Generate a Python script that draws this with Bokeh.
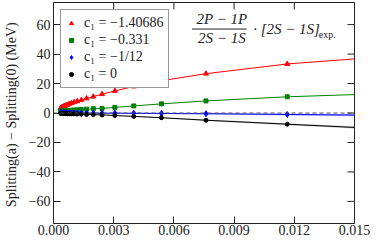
import math
from bokeh.plotting import figure
from bokeh.models import (Range1d, FixedTicker, Span, Legend, LegendItem,
                          PrintfTickFormatter)
from bokeh.core.properties import value
from bokeh.embed import file_html
from bokeh.resources import INLINE

# ---------------- data ----------------
x_vals = [0.000353, 0.000384, 0.000419, 0.00046, 0.000506, 0.00056, 0.000623, 0.000698,
          0.000787, 0.000894, 0.001024, 0.001185, 0.001387, 0.001646, 0.001984, 0.00242,
          0.00306, 0.0040, 0.00538, 0.0076, 0.01165]
red_pts = [3.3, 3.6, 3.8, 4.1, 4.5, 4.8, 5.2, 5.6, 6.2, 6.7, 7.3, 8.0, 8.8, 9.9, 11.1,
           12.8, 15.0, 18.0, 21.9, 26.7, 33.3]
green_pts = [1.2, 1.25, 1.3, 1.35, 1.4, 1.5, 1.55, 1.65, 1.75, 1.85, 2.0, 2.15, 2.35, 2.6,
             2.9, 3.1, 3.8, 4.8, 6.2, 8.2, 11.0]
blue_pts = [0.1, 0.1, 0.1, 0.1, 0.1, 0.05, 0.05, 0.05, 0.0, 0.0, 0.0, 0.0, -0.05, -0.05,
            -0.1, -0.1, -0.15, -0.2, -0.3, -0.5, -1.0]
black_pts = [-0.2, -0.25, -0.3, -0.3, -0.35, -0.4, -0.4, -0.45, -0.5, -0.55, -0.6, -0.7,
             -0.8, -0.95, -1.1, -1.3, -1.7, -2.3, -3.2, -4.9, -7.6]

# fit curves: same x plus extrapolation to the right edge
x_end = 0.015
red_end, green_end, blue_end, black_end = 36.7, 12.5, -1.4, -9.8
blue_err = [0.05, 0.05, 0.05, 0.05, 0.05, 0.05, 0.06, 0.06, 0.07, 0.07, 0.08, 0.09, 0.1,
            0.12, 0.14, 0.17, 0.22, 0.3, 0.4, 0.55, 0.7, 0.8]
black_err = [0.05, 0.05, 0.05, 0.05, 0.05, 0.05, 0.06, 0.06, 0.07, 0.07, 0.08, 0.09, 0.1,
             0.12, 0.14, 0.17, 0.22, 0.3, 0.4, 0.55, 0.7, 0.8]

legend_labels = ["c\u2081 = \u22121.40686", "c\u2081 = \u22120.331",
                 "c\u2081 = \u22121/12", "c\u2081 = 0"]
x_ticks = [0.0, 0.003, 0.006, 0.009, 0.012, 0.015]
y_ticks = [-60, -40, -20, 0, 20, 40, 60]
y_tick_labels = {-60: "\u221260", -40: "\u221240", -20: "\u221220", 0: "0",
                 20: "20", 40: "40", 60: "60"}

FONT = "'Liberation Serif', serif"
AX = "#222222"
X0, X1, Y0, Y1 = 0.0, 0.015, -75, 75

p = figure(width=370, height=241, output_backend="svg", toolbar_location=None,
           x_range=Range1d(X0, X1), y_range=Range1d(Y0, Y1),
           min_border_left=50, min_border_right=16, min_border_top=2,
           min_border_bottom=18)
p.xgrid.visible = False
p.ygrid.visible = False
p.outline_line_color = AX
p.outline_line_width = 1
p.background_fill_color = "white"
p.border_fill_color = "white"

for ax in p.xaxis + p.yaxis:
    ax.major_tick_in = 7
    ax.major_tick_out = 0
    ax.minor_tick_in = 0
    ax.minor_tick_out = 0
    ax.axis_line_color = AX
    ax.major_tick_line_color = AX
    ax.major_label_text_font = FONT
    ax.major_label_text_color = AX
    ax.major_label_text_font_size = "14px"
    ax.major_label_standoff = 3

p.xaxis.ticker = FixedTicker(ticks=x_ticks)
p.xaxis.formatter = PrintfTickFormatter(format="%.3f")
p.xaxis.major_label_standoff = 1
p.yaxis.ticker = FixedTicker(ticks=y_ticks)
p.yaxis.major_label_overrides = y_tick_labels
p.yaxis.axis_label = "Splitting(a) \u2212 Splitting(0)  (MeV)"
p.yaxis.axis_label_text_font = FONT
p.yaxis.axis_label_text_font_style = "normal"
p.yaxis.axis_label_text_font_size = "14px"
p.yaxis.axis_label_text_color = AX
p.yaxis.axis_label_standoff = 7

# inward ticks on the top and right frame edges
p.ray(x=x_ticks, y=[Y1] * len(x_ticks), length=7, length_units="screen",
      angle=-math.pi / 2, line_color=AX, line_width=1)
p.ray(x=[X1] * len(y_ticks), y=y_ticks, length=7, length_units="screen",
      angle=math.pi, line_color=AX, line_width=1)

# zero line
p.add_layout(Span(location=0, dimension="width", line_color="#555555",
                  line_dash="4 3", line_width=1.2))

line_x = x_vals + [x_end]

# bands
blue_line = blue_pts + [blue_end]
black_line = black_pts + [black_end]
p.varea(x=line_x, y1=[v - e for v, e in zip(blue_line, blue_err)],
        y2=[v + e for v, e in zip(blue_line, blue_err)], fill_color="#7f7fff", fill_alpha=0.5)
p.varea(x=line_x, y1=[v - e for v, e in zip(black_line, black_err)],
        y2=[v + e for v, e in zip(black_line, black_err)], fill_color="#999999", fill_alpha=0.5)

series = [
    (red_pts, red_end, "red", "triangle", 5),
    (green_pts, green_end, "green", "square", 4),
    (blue_pts, blue_end, "blue", "diamond", 6),
    (black_pts, black_end, "black", "circle", 4),
]
items = []
for (pts, end, col, mk, sz), lab in zip(series, legend_labels):
    p.line(line_x, pts + [end], line_color=col, line_width=1)
    r = p.scatter(x_vals, pts, marker=mk, size=sz, fill_color=col, line_color=col)
    items.append(LegendItem(label=lab, renderers=[r]))

legend = Legend(items=items, location="top_left", margin=7, padding=5, spacing=1,
                glyph_width=10, glyph_height=14, label_height=14, label_standoff=8,
                label_text_font=FONT, label_text_font_size="14px", label_text_color=AX,
                border_line_color="#333333", border_line_width=1,
                background_fill_color="white", background_fill_alpha=1.0)
p.add_layout(legend)

# annotation: fraction
p.text(x=[0.00839, 0.00839], y=[63.5, 50.6], text=["2P \u2212 1P", "2S \u2212 1S"],
       text_font=value(FONT), text_font_style="italic", text_font_size="15px",
       text_align="center", text_baseline="middle", text_color="#222222")
p.segment(x0=[0.0069], y0=[57.0], x1=[0.00962], y1=[57.0], line_color="#222222",
          line_width=1)
p.text(x=[0.00995], y=[57.0], text=["\u00b7 [2S \u2212 1S]"],
       text_font=value(FONT), text_font_style="italic", text_font_size="15px",
       text_align="left", text_baseline="middle", text_color="#222222")
p.text(x=[0.01322], y=[53.2], text=["exp."],
       text_font=value(FONT), text_font_size="10px",
       text_align="left", text_baseline="middle", text_color="#222222")

open("out.html", "w").write(file_html(p, INLINE))
